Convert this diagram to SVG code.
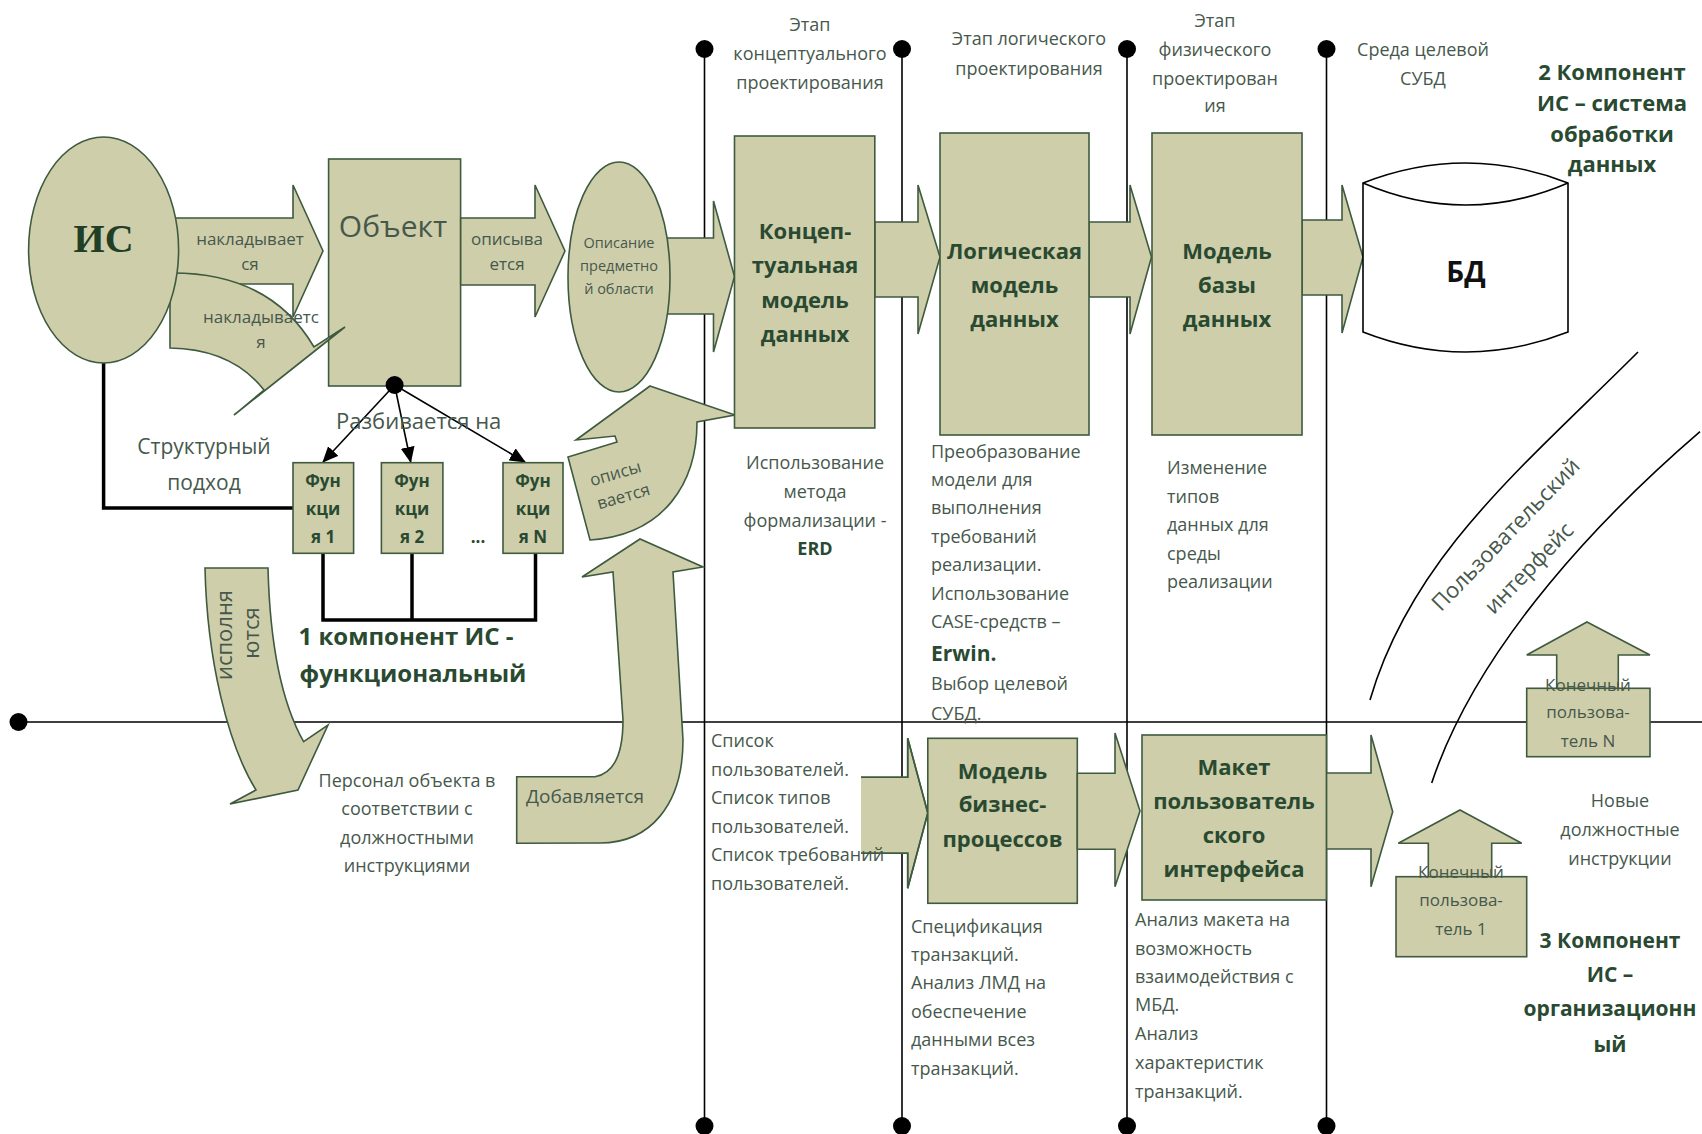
<svg xmlns="http://www.w3.org/2000/svg" width="1702" height="1134" viewBox="0 0 1702 1134" font-size="18">
<defs>
<style>
.s{fill:#cfceaa;stroke:#3e5a3f;stroke-width:1.6}
.t{font-family:"Open Sans","Liberation Sans",sans-serif;fill:#46584c}
.c{text-anchor:middle}
.b{font-weight:bold;fill:#294a31}
.ln{stroke:#000;stroke-width:1.6;fill:none}
.tk{stroke:#000;stroke-width:3.5;fill:none}
.dot{fill:#000}
</style>
<marker id="ah" viewBox="0 0 16 14" refX="15" refY="7" markerWidth="16" markerHeight="14" markerUnits="userSpaceOnUse" orient="auto">
<path d="M0,0 L16,7 L0,14 Z" fill="#000"/>
</marker>
</defs>
<rect width="1702" height="1134" fill="#fff"/>

<g id="connectors">
<line class="ln" x1="704.5" y1="49" x2="704.5" y2="1126"/>
<line class="ln" x1="902" y1="49" x2="902" y2="1126"/>
<line class="ln" x1="1127" y1="49" x2="1127" y2="1126"/>
<line class="ln" x1="1326.5" y1="49" x2="1326.5" y2="1126"/>
<line class="ln" x1="18" y1="722" x2="1702" y2="722" stroke-width="2"/>
<circle class="dot" cx="704.5" cy="49" r="9"/><circle class="dot" cx="902" cy="49" r="9"/><circle class="dot" cx="1127" cy="49" r="9"/><circle class="dot" cx="1326.5" cy="49" r="9"/>
<circle class="dot" cx="704.5" cy="1126" r="9"/><circle class="dot" cx="902" cy="1126" r="9"/><circle class="dot" cx="1127" cy="1126" r="9"/><circle class="dot" cx="1326.5" cy="1126" r="9"/>
<circle class="dot" cx="18.5" cy="722" r="9"/>
<polyline class="tk" points="103.6,360 103.6,508 293,508"/>
<polyline class="tk" points="323,553 323,620 535.5,620 535.5,553"/>
<line class="tk" x1="412" y1="553" x2="412" y2="621"/>
<line class="ln" x1="394.6" y1="385" x2="323" y2="462" marker-end="url(#ah)"/>
<line class="ln" x1="394.6" y1="385" x2="410.7" y2="462" marker-end="url(#ah)"/>
<line class="ln" x1="394.6" y1="385" x2="525" y2="462" marker-end="url(#ah)"/>
<path class="ln" d="M1370,700 C1412,556 1525,465 1638,352"/>
<path class="ln" d="M1431.7,783 C1479,641 1609,510 1700,431.7"/>
</g>

<g id="arrow-nakl1"><polygon class="s" points="165,218 293,218 293,185 323,251 293,317 293,284 165,284"/>
<text class="t c" font-size="17" x="250" y="245">накладывает</text><text class="t c" font-size="17" x="250" y="270">ся</text></g>

<g id="object"><rect class="s" x="328.6" y="159" width="132" height="227"/>
<text class="t c" font-size="30" x="393" y="237">Объект</text>
<circle class="dot" cx="394.6" cy="385" r="9"/></g>

<g id="arrow-nakl2"><path class="s" d="M170,273 Q270,272 314,347 L345,327 L234,415 L264,390 Q232,349 170,348 Z"/>
<text class="t c" font-size="17" x="261" y="323">накладываетс</text><text class="t c" font-size="17" x="261" y="348">я</text></g>
<g id="is"><ellipse class="s" cx="103.6" cy="250" rx="75" ry="113"/>
<text x="103.6" y="252" text-anchor="middle" font-family="'Liberation Serif',serif" font-weight="bold" font-size="40" fill="#213f27">ИС</text></g>

<g id="arrow-opis1"><polygon class="s" points="460.7,218 535,218 535,185 565,251 535,317 535,285 460.7,285"/>
<text class="t c" font-size="17" x="507" y="245">описыва</text><text class="t c" font-size="17" x="507" y="270">ется</text></g>

<g id="arrow-ell-concept"><polygon class="s" points="650,238 713.5,238 713.5,201 734.5,276.5 713.5,352 713.5,314 650,314"/></g>
<g id="domain"><ellipse class="s" cx="619" cy="277" rx="51" ry="115"/>
<text class="t c" font-size="14.5" x="619" y="248">Описание</text><text class="t c" font-size="14.5" x="619" y="271">предметно</text><text class="t c" font-size="14.5" x="619" y="294">й области</text></g>

<g id="arrow-opis2"><path class="s" d="M650,386 L735,415 L697,422 C697,482 665,535 590,540 L568,457 L617,442 L615,436 L576,440 Z"/>
<text class="t c" font-size="17" transform="translate(617,479) rotate(-16)">описы</text>
<text class="t c" font-size="17" transform="translate(625,502) rotate(-16)">вается</text></g>

<g id="funcs">
<rect class="s" x="293" y="462.7" width="60.6" height="90.6"/>
<rect class="s" x="381.4" y="462.7" width="61.5" height="90.6"/>
<rect class="s" x="503" y="462.7" width="60" height="90.6"/>
<text class="t c b" font-size="17" x="323" y="487">Фун</text><text class="t c b" font-size="17" x="323" y="515">кци</text><text class="t c b" font-size="17" x="323" y="543">я 1</text>
<text class="t c b" font-size="17" x="412" y="487">Фун</text><text class="t c b" font-size="17" x="412" y="515">кци</text><text class="t c b" font-size="17" x="412" y="543">я 2</text>
<text class="t c b" font-size="17" x="533" y="487">Фун</text><text class="t c b" font-size="17" x="533" y="515">кци</text><text class="t c b" font-size="17" x="533" y="543">я N</text>
<text class="t c b" font-size="17" x="478" y="543">...</text>
</g>
<g id="labels-left">
<text class="t" font-size="22" x="336" y="429">Разбивается на</text>
<text class="t c" font-size="21" x="204" y="454">Структурный</text><text class="t c" font-size="21" x="204" y="490">подход</text>
<text class="t c b" font-size="24" x="406" y="645">1 компонент ИС -</text><text class="t c b" font-size="24" x="413" y="682">функциональный</text>
</g>

<g id="arrow-isp"><path class="s" d="M205,568 L268,568 C270,650 283,705 303.6,741.7 L328,725 L298,790 L230,804 L256,790 C228,745 207,660 205,568 Z"/>
<text class="t c" font-size="22" transform="translate(232,635) rotate(-90)">исполня</text>
<text class="t c" font-size="22" transform="translate(259,633) rotate(-90)">ются</text></g>
<text class="t c" x="407" y="787">Персонал объекта в</text><text class="t c" x="407" y="815">соответствии с</text><text class="t c" x="407" y="844">должностными</text><text class="t c" x="407" y="872">инструкциями</text>

<g id="arrow-dob"><path class="s" d="M516.7,776.7 L595,776.7 Q623,772 623,720 L613,572 L582,577 L640,539 L703,567 L673,572 L683,740 C683,805 650,843 600,843 L516.7,843.3 Z"/>
<text class="t c" font-size="19" x="585" y="803">Добавляется</text></g>

<g id="arrows-top">
<polygon class="s" points="874.8,222 918,222 918,185 940,257 918,334 918,297 874.8,297"/>
<polygon class="s" points="1089,222 1130,222 1130,185 1151.5,257 1130,334 1130,297 1089,297"/>
<polygon class="s" points="1302,220 1342,220 1342,185 1363,257 1342,333 1342,295 1302,295"/>
</g>
<g id="concept"><rect class="s" x="734.5" y="136" width="140.3" height="292"/>
<text class="t c b" font-size="22" x="805" y="239">Концеп-</text><text class="t c b" font-size="22" x="805" y="273">туальная</text><text class="t c b" font-size="22" x="805" y="308">модель</text><text class="t c b" font-size="22" x="805" y="342">данных</text></g>
<g id="logical"><rect class="s" x="940" y="133" width="149" height="302"/>
<text class="t c b" font-size="22" x="1014.5" y="259">Логическая</text><text class="t c b" font-size="22" x="1014.5" y="293">модель</text><text class="t c b" font-size="22" x="1014.5" y="327">данных</text></g>
<g id="physical"><rect class="s" x="1152" y="133" width="150" height="302"/>
<text class="t c b" font-size="22" x="1227" y="259">Модель</text><text class="t c b" font-size="22" x="1227" y="293">базы</text><text class="t c b" font-size="22" x="1227" y="327">данных</text></g>
<g id="db"><path d="M1363,183 Q1465.5,143 1568,183 L1568,332 Q1465.5,372 1363,332 Z" fill="#fff" stroke="#000" stroke-width="1.6"/>
<path d="M1363,183 Q1465.5,227 1568,183" fill="none" stroke="#000" stroke-width="1.6"/>
<text x="1466" y="282" text-anchor="middle" font-family="'Open Sans',sans-serif" font-weight="bold" font-size="28" fill="#111">БД</text></g>

<g id="labels-top">
<text class="t c" x="810" y="31">Этап</text><text class="t c" x="810" y="60">концептуального</text><text class="t c" x="810" y="89">проектирования</text>
<text class="t c" x="1029" y="45">Этап логического</text><text class="t c" x="1029" y="75">проектирования</text>
<text class="t c" x="1215" y="27">Этап</text><text class="t c" x="1215" y="56">физического</text><text class="t c" x="1215" y="85">проектирован</text><text class="t c" x="1215" y="112">ия</text>
<text class="t c" x="1423" y="56">Среда целевой</text><text class="t c" x="1423" y="85">СУБД</text>
<text class="t c b" font-size="22" x="1612" y="80">2 Компонент</text><text class="t c b" font-size="22" x="1612" y="111">ИС – система</text><text class="t c b" font-size="22" x="1612" y="142">обработки</text><text class="t c b" font-size="22" x="1612" y="172">данных</text>
</g>

<g id="labels-mid">
<text class="t c" x="815" y="469">Использование</text><text class="t c" x="815" y="498">метода</text><text class="t c" x="815" y="527">формализации -</text><text class="t c b" x="815" y="555">ERD</text>
<text class="t" x="931" y="458">Преобразование</text><text class="t" x="931" y="486">модели для</text><text class="t" x="931" y="514">выполнения</text><text class="t" x="931" y="543">требований</text><text class="t" x="931" y="571">реализации.</text><text class="t" x="931" y="600">Использование</text><text class="t" x="931" y="628">CASE-средств –</text><text class="t b" font-size="21" x="931" y="661">Erwin.</text><text class="t" x="931" y="690">Выбор целевой</text><text class="t" x="931" y="720">СУБД.</text>
<text class="t" x="1167" y="474">Изменение</text><text class="t" x="1167" y="503">типов</text><text class="t" x="1167" y="531">данных для</text><text class="t" x="1167" y="560">среды</text><text class="t" x="1167" y="588">реализации</text>
</g>

<g id="arrow-bp"><path class="s" d="M861,777.3 L907.7,777.3 L907.7,738.3 L927.8,813 L907.7,888.3 L907.7,853.3 L861,853.3" stroke="none"/>
<path d="M861,777.3 L907.7,777.3 L907.7,738.3 L927.8,813 L907.7,888.3 L907.7,853.3 L861,853.3" fill="none" stroke="#3e5a3f" stroke-width="1.6"/></g>
<g id="bp"><rect class="s" x="927.8" y="738.3" width="149.5" height="165"/>
<text class="t c b" font-size="22" x="1002.5" y="779">Модель</text><text class="t c b" font-size="22" x="1002.5" y="812">бизнес-</text><text class="t c b" font-size="22" x="1002.5" y="847">процессов</text></g>
<g id="arrow-mk"><polygon class="s" points="1077.3,773.3 1115,773.3 1115,733 1140,811 1115,886.7 1115,849.3 1077.3,849.3"/></g>
<g id="arrow-ui"><polygon class="s" points="1326.4,773 1371,773 1371,735 1392.7,811.7 1371,886.7 1371,849 1326.4,849"/></g>
<g id="ui"><rect class="s" x="1142" y="735" width="184.4" height="165"/>
<text class="t c b" font-size="22" x="1234" y="775">Макет</text><text class="t c b" font-size="22" x="1234" y="809">пользователь</text><text class="t c b" font-size="22" x="1234" y="843">ского</text><text class="t c b" font-size="22" x="1234" y="877">интерфейса</text></g>

<g id="labels-bottom">
<text class="t" x="711" y="747">Список</text><text class="t" x="711" y="776">пользователей.</text><text class="t" x="711" y="804">Список типов</text><text class="t" x="711" y="833">пользователей.</text><text class="t" x="711" y="861">Список требований</text><text class="t" x="711" y="890">пользователей.</text>
<text class="t" x="911" y="933">Спецификация</text><text class="t" x="911" y="961">транзакций.</text><text class="t" x="911" y="989">Анализ ЛМД на</text><text class="t" x="911" y="1018">обеспечение</text><text class="t" x="911" y="1046">данными всез</text><text class="t" x="911" y="1075">транзакций.</text>
<text class="t" x="1135" y="926">Анализ макета на</text><text class="t" x="1135" y="955">возможность</text><text class="t" x="1135" y="983">взаимодействия с</text><text class="t" x="1135" y="1011">МБД.</text><text class="t" x="1135" y="1040">Анализ</text><text class="t" x="1135" y="1069">характеристик</text><text class="t" x="1135" y="1098">транзакций.</text>
</g>

<g id="user-n"><polygon class="s" points="1587,622 1650,655 1618.3,655 1618.3,700 1556.7,700 1556.7,655 1526.7,655"/>
<rect class="s" x="1526.7" y="688.3" width="123.3" height="68.4"/>
<text class="t c" font-size="17" x="1588" y="691">Конечный</text><text class="t c" font-size="17" x="1588" y="718">пользова-</text><text class="t c" font-size="17" x="1588" y="747">тель N</text></g>
<g id="user-1"><polygon class="s" points="1460,810 1521.7,843.3 1491.7,843.3 1491.7,890 1428.3,890 1428.3,843.3 1398.3,843.3"/>
<rect class="s" x="1396" y="876.7" width="130.7" height="80"/>
<text class="t c" font-size="17" x="1461" y="878">Конечный</text><text class="t c" font-size="17" x="1461" y="906">пользова-</text><text class="t c" font-size="17" x="1461" y="935">тель 1</text></g>

<g id="labels-right">
<text class="t c" font-size="22" transform="translate(1517,551) rotate(-46)"><tspan x="4" y="-12">Пользовательский</tspan><tspan x="-4" y="28">интерфейс</tspan></text>
<text class="t c" x="1620" y="807">Новые</text><text class="t c" x="1620" y="836">должностные</text><text class="t c" x="1620" y="865">инструкции</text>
<text class="t c b" font-size="21" x="1610" y="948">3 Компонент</text><text class="t c b" font-size="21" x="1610" y="982">ИС –</text><text class="t c b" font-size="21" x="1610" y="1016">организационн</text><text class="t c b" font-size="21" x="1610" y="1052">ый</text>
</g>
</svg>
